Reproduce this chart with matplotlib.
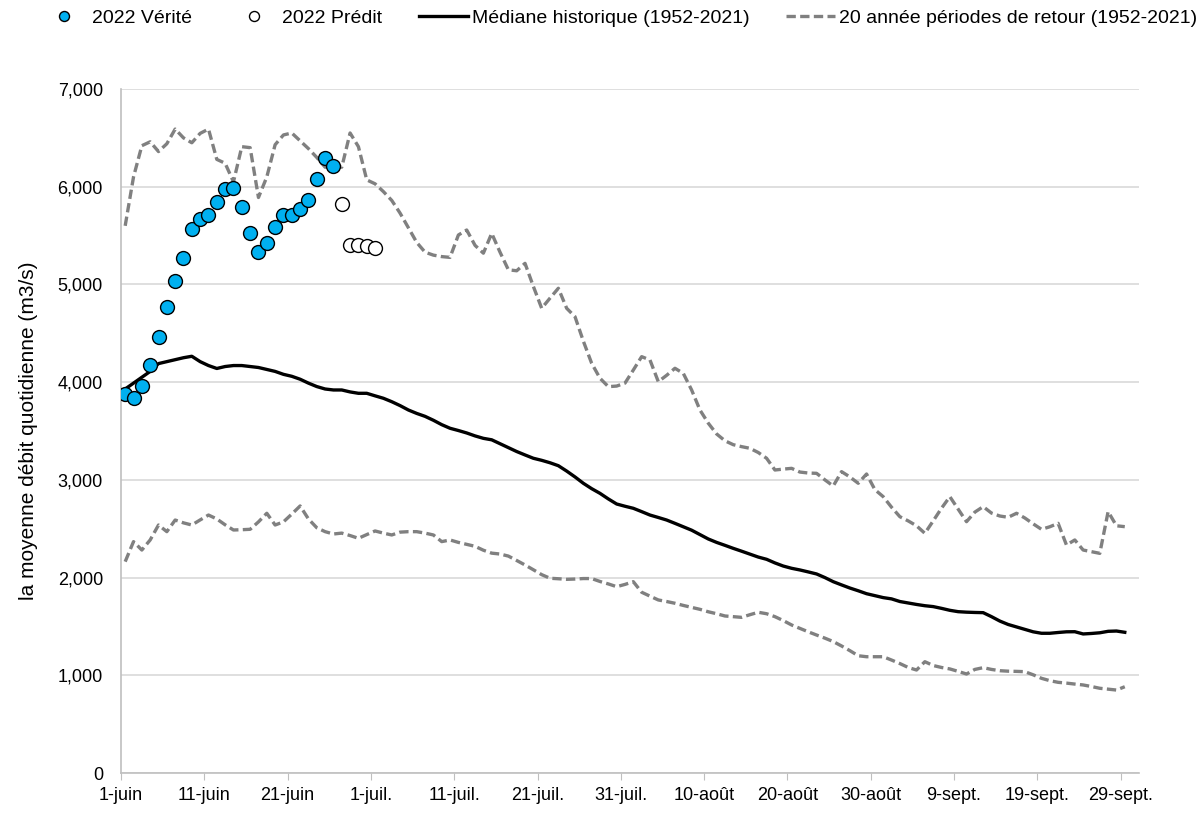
import numpy as np
import matplotlib.pyplot as plt
from matplotlib.ticker import FuncFormatter

plt.rcParams['font.family'] = ['Liberation Sans', 'DejaVu Sans']

# jours depuis le 1er juin
tick_labels = ["1-juin", "11-juin", "21-juin", "1-juil.", "11-juil.", "21-juil.", "31-juil.",
               "10-août", "20-août", "30-août", "9-sept.", "19-sept.", "29-sept."]

verite = [3879, 3841, 3964, 4176, 4459, 4773, 5035, 5274, 5564, 5670, 5714, 5844, 5973,
          5990, 5789, 5523, 5336, 5421, 5588, 5711, 5707, 5769, 5864, 6076, 6291, 6216]
predit = [5820, 5407, 5407, 5397, 5376]

mediane = [3930, 3990, 4050, 4110, 4190, 4210, 4230, 4250, 4265, 4210,
           4170, 4140, 4160, 4170, 4170, 4160, 4150, 4130, 4110, 4080,
           4060, 4030, 3990, 3955, 3930, 3920, 3920, 3900, 3886, 3886,
           3860, 3835, 3800, 3760, 3715, 3680, 3650, 3610, 3565, 3528,
           3505, 3480, 3450, 3425, 3410, 3370, 3330, 3290, 3255, 3221,
           3200, 3175, 3145, 3090, 3030, 2965, 2910, 2862, 2805, 2753,
           2730, 2709, 2675, 2640, 2615, 2589, 2555, 2520, 2485, 2440,
           2395, 2360, 2330, 2299, 2270, 2240, 2210, 2187, 2150, 2118,
           2095, 2078, 2058, 2037, 2000, 1958, 1925, 1893, 1865, 1835,
           1815, 1795, 1782, 1755, 1740, 1725, 1712, 1703, 1685, 1665,
           1651, 1646, 1643, 1641, 1600, 1555, 1520, 1495, 1470, 1445,
           1430, 1430, 1438, 1445, 1446, 1423, 1428, 1435, 1450, 1453,
           1440]

haut = [5600, 6100, 6420, 6460, 6360, 6440, 6590, 6500, 6450, 6546,
        6590, 6280, 6240, 6050, 6410, 6400, 5890, 6100, 6430, 6530,
        6550, 6470, 6390, 6300, 6200, 6210, 6200, 6550, 6410, 6070,
        6030, 5950, 5860, 5730, 5580, 5430, 5330, 5300, 5285, 5277,
        5506, 5557, 5400, 5320, 5523, 5330, 5150, 5140, 5216, 4980,
        4756, 4860, 4961, 4756, 4670, 4420, 4193, 4040, 3954, 3960,
        3990, 4124, 4261, 4227, 4005, 4070, 4142, 4090, 3920, 3715,
        3580, 3470, 3400, 3360, 3340, 3323, 3280, 3221, 3101, 3110,
        3118, 3080, 3070, 3067, 3000, 2937, 3084, 3030, 2965, 3060,
        2900, 2828, 2720, 2623, 2580, 2530, 2453, 2580, 2710, 2828,
        2700, 2572, 2670, 2726, 2660, 2630, 2617, 2658, 2610, 2550,
        2494, 2520, 2555, 2333, 2385, 2282, 2265, 2248, 2675, 2530,
        2521]

bas = [2163, 2368, 2282, 2385, 2538, 2470, 2589, 2560, 2538, 2590,
       2640, 2600, 2540, 2487, 2490, 2494, 2570, 2658, 2538, 2570,
       2650, 2733, 2600, 2510, 2470, 2446, 2455, 2430, 2402, 2440,
       2477, 2455, 2436, 2465, 2470, 2470, 2455, 2436, 2368, 2385,
       2360, 2340, 2320, 2280, 2250, 2241, 2220, 2175, 2129, 2080,
       2030, 1993, 1988, 1982, 1985, 1990, 1990, 1960, 1935, 1907,
       1930, 1958, 1850, 1810, 1771, 1755, 1737, 1715, 1695, 1675,
       1650, 1630, 1607, 1600, 1593, 1620, 1645, 1630, 1600, 1560,
       1515, 1480, 1445, 1412, 1380, 1345, 1300, 1252, 1200, 1190,
       1190, 1190, 1156, 1120, 1080, 1054, 1139, 1100, 1080, 1065,
       1040, 1013, 1060, 1078, 1060, 1047, 1042, 1040, 1037, 1005,
       969, 945, 928, 920, 910, 901, 885, 867, 858, 849,
       883]

jours = np.arange(len(mediane))
j_verite = np.arange(len(verite))
j_predit = np.arange(len(verite), len(verite) + len(predit))

fig = plt.figure(figsize=(11.97, 8.13), dpi=100)
ax = fig.add_axes([0.1011, 0.0492, 0.8504, 0.8413])

gris = '#808080'
tirets = (0, (2.8, 1.3))
ax.plot(jours, haut, color=gris, lw=2.4, ls=tirets,
        label='20 année périodes de retour (1952-2021)', zorder=2)
ax.plot(jours, bas, color=gris, lw=2.4, ls=tirets, zorder=2)
ax.plot(jours, mediane, color='black', lw=2.4, label='Médiane historique (1952-2021)', zorder=3)
ax.plot(j_verite, verite, 'o', ms=10, mfc='#00B0F0', mec='black', mew=1.0,
        label='2022 Vérité', zorder=4)
ax.plot(j_predit, predit, 'o', ms=10, mfc='white', mec='black', mew=1.0,
        label='2022 Prédit', zorder=4)

ax.set_xlim(-0.5, 121.7)
ax.set_ylim(0, 7000)
ax.set_xticks(np.arange(0, 121, 10) - 0.5)
ax.set_xticklabels(tick_labels)
ax.set_yticks(np.arange(0, 7001, 1000))
ax.yaxis.set_major_formatter(FuncFormatter(lambda v, p: f"{v:,.0f}"))
ax.tick_params(axis='x', length=5, color='#BFBFBF', labelsize=13, pad=5)
ax.tick_params(axis='y', length=0, labelsize=13, pad=13)
ax.grid(axis='y', color='#D9D9D9', lw=1.2)
ax.set_axisbelow(True)
for s in ['top', 'right']:
    ax.spines[s].set_visible(False)
for s in ['left', 'bottom']:
    ax.spines[s].set_color('#BFBFBF')
    ax.spines[s].set_linewidth(1.2)
ax.set_ylabel('la moyenne débit quotidienne (m3/s)', fontsize=15, labelpad=14)

h, l = ax.get_legend_handles_labels()
order = [2, 3, 1, 0]
fig.legend([h[i] for i in order], [l[i] for i in order], loc='upper left',
           bbox_to_anchor=(40 / 1197, 1 - 9 / 813), borderaxespad=0, borderpad=0,
           ncol=4, frameon=False, fontsize=14,
           handlelength=2.5, columnspacing=1.9, handletextpad=0.2, markerscale=0.72)

fig.savefig('out.png', dpi=100)
